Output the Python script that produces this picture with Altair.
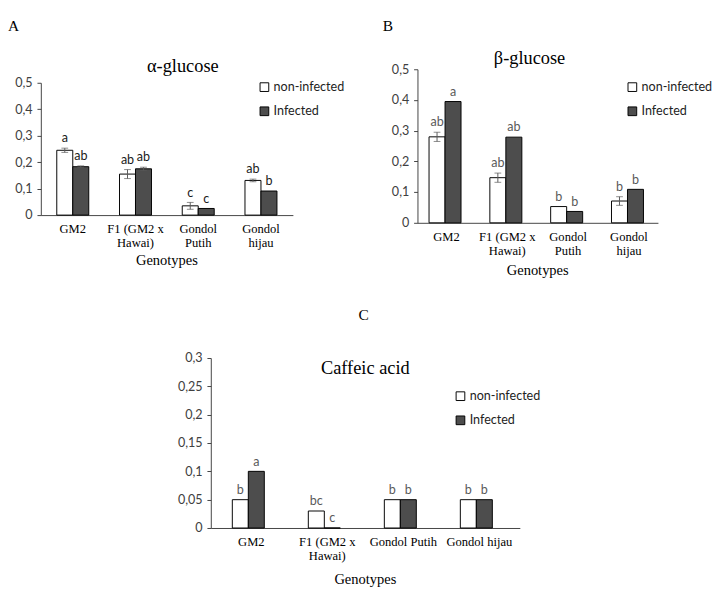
import altair as alt
import pandas as pd

# ---------------- data ----------------
genotypes = ["GM2", "F1 (GM2 x Hawai)", "Gondol Putih", "Gondol hijau"]
groups = ["non-infected", "Infected"]

# Panel A: alpha-glucose
a_non = [0.245, 0.155, 0.035, 0.131]
a_non_err = [0.008, 0.017, 0.013, 0.005]
a_inf = [0.183, 0.175, 0.025, 0.091]
a_inf_err = [0.003, 0.006, 0.0, 0.0]
a_let_non = ["a", "ab", "c", "ab"]
a_let_inf = ["ab", "ab", "c", "b"]

# Panel B: beta-glucose
b_non = [0.280, 0.147, 0.053, 0.071]
b_non_err = [0.015, 0.015, 0.0, 0.014]
b_inf = [0.395, 0.279, 0.037, 0.109]
b_inf_err = [0.0, 0.0, 0.0, 0.0]
b_let_non = ["ab", "ab", "b", "b"]
b_let_inf = ["a", "ab", "b", "b"]

# Panel C: caffeic acid
c_non = [0.05, 0.03, 0.05, 0.05]
c_non_err = [0.0, 0.0, 0.0, 0.0]
c_inf = [0.10, 0.0, 0.05, 0.05]
c_inf_err = [0.0, 0.0, 0.0, 0.0]
c_let_non = ["b", "bc", "b", "b"]
c_let_inf = ["a", "c", "b", "b"]

ab_ticks = [0, 0.1, 0.2, 0.3, 0.4, 0.5]
c_ticks = [0, 0.05, 0.1, 0.15, 0.2, 0.25, 0.3]

SERIF = "Liberation Serif"
SANS = "Lato"
HATCH = "#4d4d4d"
AXC = "#404040"
ERRC = "#595959"

SPLIT_ALL = ("datum.value == 'F1 (GM2 x Hawai)' ? ['F1 (GM2 x', 'Hawai)'] : "
             "datum.value == 'Gondol Putih' ? ['Gondol', 'Putih'] : "
             "datum.value == 'Gondol hijau' ? ['Gondol', 'hijau'] : datum.value")
SPLIT_F1 = "datum.value == 'F1 (GM2 x Hawai)' ? ['F1 (GM2 x', 'Hawai)'] : datum.value"


def make_df(non, non_err, inf, inf_err, let_non, let_inf):
    rows = []
    for i, g in enumerate(genotypes):
        rows.append(dict(genotype=g, group="non-infected", value=non[i], err=non_err[i], letter=let_non[i]))
        rows.append(dict(genotype=g, group="Infected", value=inf[i], err=inf_err[i], letter=let_inf[i]))
    df = pd.DataFrame(rows)
    df["lo"] = df["value"] - df["err"]
    df["hi"] = df["value"] + df["err"]
    return df


def text_layer(txt, x, y, font, size, color="black", align="center", baseline="middle"):
    return alt.Chart(pd.DataFrame({"t": [txt]})).mark_text(
        font=font, fontSize=size, color=color, align=align, baseline=baseline
    ).encode(x=alt.value(x), y=alt.value(y), text="t:N")


def panel(df, width, height, ymax, yvalues, yrange, pin, pout, label_expr,
          title, title_xy, letter, letter_xy, legend_xy, geno_y, letter_color):
    x_enc = alt.X(
        "genotype:N", sort=genotypes,
        scale=alt.Scale(paddingInner=pin, paddingOuter=pout),
        axis=alt.Axis(title=None, labelAngle=0, ticks=False, tickSize=0, labelPadding=8,
                      labelFont=SERIF, labelFontSize=13, labelColor="black",
                      labelLineHeight=15, labelExpr=label_expr, labelLimit=300,
                      domainColor=AXC, domainWidth=1),
    )
    xoff = alt.XOffset("group:N", sort=groups, scale=alt.Scale(paddingInner=0, paddingOuter=0))
    if yrange is not None:
        yscale = alt.Scale(domain=[0, ymax], nice=False, zero=True, range=yrange)
    else:
        yscale = alt.Scale(domain=[0, ymax], nice=False, zero=True)
    yaxis = alt.Axis(title=None, values=yvalues, grid=False, tickSize=4, tickColor=AXC,
                     domainColor=AXC, labelFont=SANS, labelFontSize=13, labelColor=AXC,
                     labelPadding=5,
                     labelExpr="replace(format(datum.value, '~g'), '.', ',')")
    base = alt.Chart(df).encode(x=x_enc, xOffset=xoff)

    bars = base.mark_bar(stroke="black", strokeWidth=1).encode(
        y=alt.Y("value:Q", scale=yscale, axis=yaxis),
        fill=alt.Fill("group:N", sort=groups,
                      scale=alt.Scale(domain=groups, range=["white", HATCH]),
                      legend=alt.Legend(title=None, orient="none", legendX=legend_xy[0],
                                        legendY=legend_xy[1], symbolType="square", symbolSize=81,
                                        symbolStrokeColor="black", symbolStrokeWidth=1,
                                        labelFont=SANS, labelFontSize=13, labelColor="#222222",
                                        rowPadding=11, padding=0, labelOffset=3)),
    )
    eb = base.transform_filter("datum.err > 0")
    rule = eb.mark_rule(color=ERRC, strokeWidth=1).encode(
        y=alt.Y("lo:Q", scale=yscale, axis=yaxis), y2="hi:Q")
    cap_hi = eb.mark_tick(orient="horizontal", size=7, thickness=1, color=ERRC).encode(
        y=alt.Y("hi:Q", scale=yscale, axis=yaxis))
    cap_lo = eb.mark_tick(orient="horizontal", size=7, thickness=1, color=ERRC).encode(
        y=alt.Y("lo:Q", scale=yscale, axis=yaxis))
    letters = base.mark_text(baseline="bottom", dy=-3, font=SANS, fontSize=13,
                             color=letter_color).encode(
        y=alt.Y("hi:Q", scale=yscale, axis=yaxis), text="letter:N")

    t_title = text_layer(title, title_xy[0], title_xy[1], SERIF, 19)
    t_letter = text_layer(letter, letter_xy[0], letter_xy[1], SERIF, 16, align="left",
                          baseline="top")
    t_geno = text_layer("Genotypes", width / 2, geno_y, SERIF, 15)

    return alt.layer(bars, rule, cap_hi, cap_lo, letters, t_title, t_letter, t_geno).properties(
        width=width, height=height)


dfA = make_df(a_non, a_non_err, a_inf, a_inf_err, a_let_non, a_let_inf)
dfB = make_df(b_non, b_non_err, b_inf, b_inf_err, b_let_non, b_let_inf)
dfC = make_df(c_non, c_non_err, c_inf, c_inf_err, c_let_non, c_let_inf)

A = panel(dfA, 261, 151, 0.5, ab_ticks, [151, 14], 0.49, 0.254, SPLIT_ALL,
          "α-glucose", (147, -3), "A", (-34, -53), (225, 12), 198, "#1a1a1a")
B = panel(dfB, 249, 159, 0.5, ab_ticks, None, 0.426, 0.19, SPLIT_ALL,
          "β-glucose", (116, -11), "B", (-36, -53), (216, 12), 208, ERRC)
C = panel(dfC, 320, 176, 0.3, c_ticks, None, 0.5, 0.283, SPLIT_F1,
          "Caffeic acid", (160, 11), "C", (153, -52), (252, 33), 229, ERRC)

spacer = alt.Chart(pd.DataFrame({"a": [0]})).mark_point(opacity=0).properties(width=1, height=1)

top = alt.hconcat(A, B, spacing=129, bounds="flush").resolve_scale(
    fill="independent").resolve_legend(fill="independent")
bottom = alt.hconcat(spacer, C, spacing=175, bounds="flush").resolve_scale(
    fill="independent").resolve_legend(fill="independent")

chart = alt.vconcat(top, bottom, spacing=299, bounds="flush", padding=0).resolve_scale(
    fill="independent").resolve_legend(fill="independent").configure_view(stroke=None)

chart.save("out.html", embed_options={"renderer": "svg", "actions": False})
